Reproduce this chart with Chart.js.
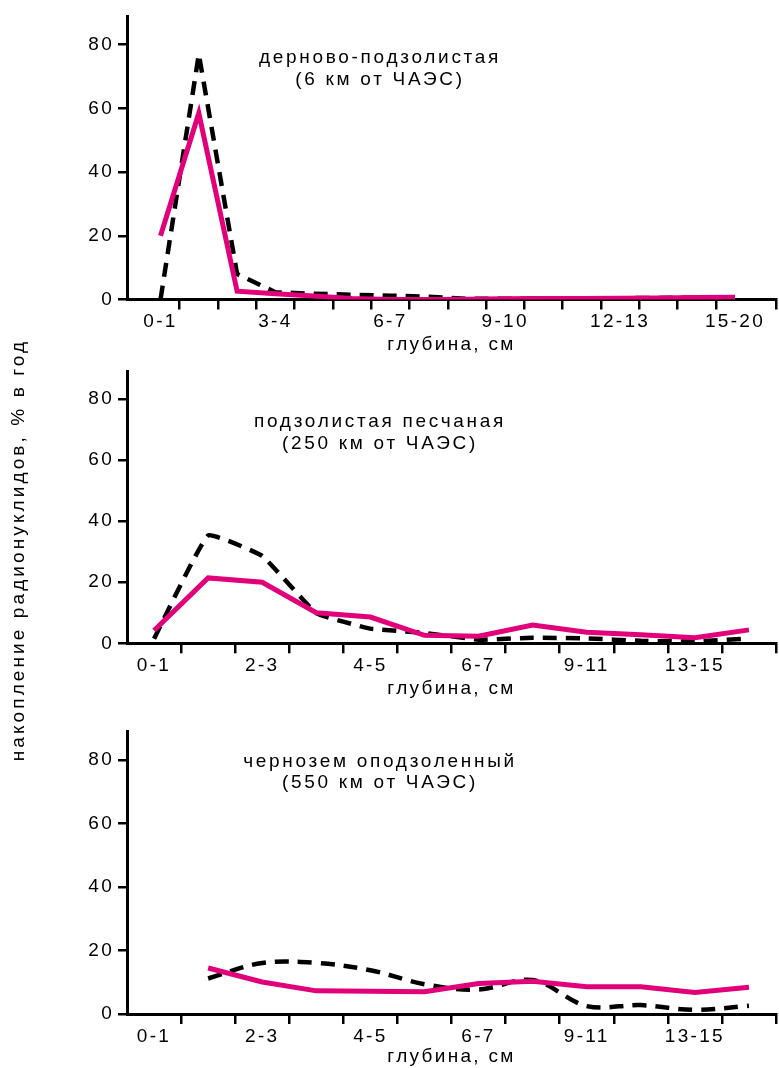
<!DOCTYPE html>
<html>
<head>
<meta charset="utf-8">
<script src="https://cdn.jsdelivr.net/npm/chart.js@4.4.0/dist/chart.umd.min.js"></script>
<style>
  html, body { margin: 0; padding: 0; background: #fff; }
  body { width: 779px; height: 1068px; position: relative; overflow: hidden; font-family: "Liberation Sans", Arial, sans-serif; }
  canvas { position: absolute; left: 0; }
  #yTitle {
    position: absolute; left: -232px; top: 539px; width: 500px; height: 22px;
    line-height: 22px; text-align: center; white-space: nowrap;
    font-size: 19px; letter-spacing: 3.1px; color: #000;
    transform: rotate(-90deg); transform-origin: 50% 50%;
  }
</style>
</head>
<body>
<canvas id="chartSod" width="779" height="356" style="top:0px;width:779px;height:356px"></canvas>
<canvas id="chartSand" width="779" height="344" style="top:356px;width:779px;height:344px"></canvas>
<canvas id="chartChern" width="779" height="368" style="top:700px;width:779px;height:368px"></canvas>
<div id="yTitle">накопление радионуклидов, % в год</div>
<script>
// depth categories
const depthTop = ["0-1", "1-2", "2-3", "3-4", "4-5", "5-6", "6-7", "7-8", "8-9", "9-10", "10-11", "11-12", "12-13", "13-14", "14-15", "15-20"];
const depthLower = ["0-1", "1-2", "2-3", "3-4", "4-5", "5-6", "6-7", "7-9", "9-11", "11-13", "13-15", "15-20"];

// дерново-подзолистая (6 км)
const sodSolid = [20, 58.5, 2.6, 1.8, 1.1, 0.3, 0, 0, 0.1, 0.2, 0.3, 0.3, 0.4, 0.5, 0.6, 0.7];
const sodDashed = [0, 77, 8, 2.3, 1.8, 1.5, 1.2, 0.9, 0.2, 0.2, 0.3, 0.3, 0.4, 0.5, 0.6, 0.7];

// подзолистая песчаная (250 км)
const sandSolid = [4.2, 21.4, 20, 10, 8.6, 2.6, 2.3, 6.0, 3.6, 2.8, 1.8, 4.4];
const sandDashed = [1.5, 35.3, 28.6, 9.9, 4.8, 3.4, 1.2, 1.8, 1.6, 0.8, 0.6, 1.6];

// чернозем оподзоленный (550 км), no 0-1 value
const chernSolid = [null, 14.5, 10.1, 7.3, 7.2, 7.0, 9.6, 10.3, 8.6, 8.6, 6.8, 8.4];
const chernDashed = [null, 11.2, 16.1, 16.1, 13.8, 9.4, 7.7, 10.7, 2.5, 2.8, 1.3, 2.6];

const yTickStep = 20;
const yMax = 89;

const PINK = "#e2007a";
const FONT = '"Liberation Sans", Arial, sans-serif';
Chart.defaults.font.family = FONT;
Chart.defaults.font.size = 19;
Chart.defaults.color = "#000";

// spaced lettering like the original print
const spacing = {
    id: "spacing",
    beforeDraw(chart) { chart.ctx.letterSpacing = "2.3px"; }
};

// soil name written inside the plot
const soilNote = {
    id: "soilNote",
    afterDraw(chart, args, opts) {
        const { ctx, chartArea } = chart;
        ctx.save();
        ctx.font = "19px " + FONT;
        ctx.letterSpacing = "2.7px";
        ctx.fillStyle = "#000";
        ctx.textAlign = "center";
        ctx.textBaseline = "alphabetic";
        opts.lines.forEach((line, i) => ctx.fillText(line, opts.x, chartArea.top + opts.y[i]));
        ctx.restore();
    }
};

function depthAxis(labels, min, max, every, height) {
    return {
        type: "linear",
        min: min,
        max: max,
        afterBuildTicks: (scale) => {
            const ticks = [];
            for (let i = 0; i < labels.length; i++) {
                ticks.push({ value: i });
                if (i < labels.length - 1) ticks.push({ value: i + 0.5 });
            }
            ticks.push({ value: max });
            scale.ticks = ticks;
        },
        afterFit: (scale) => { scale.height = height; },
        ticks: {
            autoSkip: false,
            maxRotation: 0,
            padding: 1,
            callback: (v) => (Number.isInteger(v) && v % every === 0 ? labels[v] : "")
        },
        grid: {
            drawOnChartArea: false,
            tickLength: 10,
            lineWidth: 2.5,
            tickColor: (c) => (c.tick && Number.isInteger(c.tick.value) ? "rgba(0,0,0,0)" : "#000")
        },
        border: { color: "#000", width: 3 },
        title: { display: true, text: "глубина, см", padding: { top: 0, bottom: 0 } }
    };
}

function valueAxis() {
    return {
        min: 0,
        max: yMax,
        afterFit: (scale) => { scale.width = 127; },
        ticks: { stepSize: yTickStep, includeBounds: false, padding: 4 },
        grid: { drawOnChartArea: false, tickLength: 9, lineWidth: 2.5, tickColor: "#000" },
        border: { color: "#000", width: 3 }
    };
}

function series(solid, dashed, dashedTension) {
    return [{
        data: solid.map((v, i) => ({ x: i, y: v })),
        borderColor: PINK,
        borderWidth: 5,
        pointRadius: 0,
        tension: 0
    }, {
        data: dashed.map((v, i) => ({ x: i, y: v })),
        borderColor: "#000",
        borderWidth: 4.5,
        borderDash: [14, 9],
        pointRadius: 0,
        tension: dashedTension
    }];
}

function renderPanel(id, labels, solid, dashed, o) {
    const ctx = document.getElementById(id).getContext("2d");
    return new Chart(ctx, {
        type: "line",
        data: { datasets: series(solid, dashed, o.tension) },
        options: {
            responsive: false,
            animation: false,
            layout: { padding: { top: o.top, right: 3, left: 0, bottom: 0 } },
            scales: {
                x: depthAxis(labels, o.min, o.max, o.every, o.axisH),
                y: valueAxis()
            },
            plugins: {
                legend: { display: false },
                tooltip: { enabled: false },
                soilNote: { x: 380, y: o.noteY, lines: o.note }
            }
        },
        plugins: [spacing, soilNote]
    });
}

renderPanel("chartSod", depthTop, sodSolid, sodDashed, {
    top: 16, axisH: 56.5, min: -0.875, max: 16.07, every: 3, tension: 0,
    noteY: [47, 69], note: ["дерново-подзолистая", "(6 км от ЧАЭС)"]
});
renderPanel("chartSand", depthLower, sandSolid, sandDashed, {
    top: 4.7, axisH: 56.7, min: -0.5, max: 11.5, every: 2, tension: 0.1,
    noteY: [55.3, 77.3], note: ["подзолистая песчаная", "(250 км от ЧАЭС)"]
});
renderPanel("chartChern", depthLower, chernSolid, chernDashed, {
    top: 31.7, axisH: 54, min: -0.5, max: 11.5, every: 2, tension: 0.35,
    noteY: [35.3, 56.3], note: ["чернозем оподзоленный", "(550 км от ЧАЭС)"]
});
</script>
</body>
</html>
